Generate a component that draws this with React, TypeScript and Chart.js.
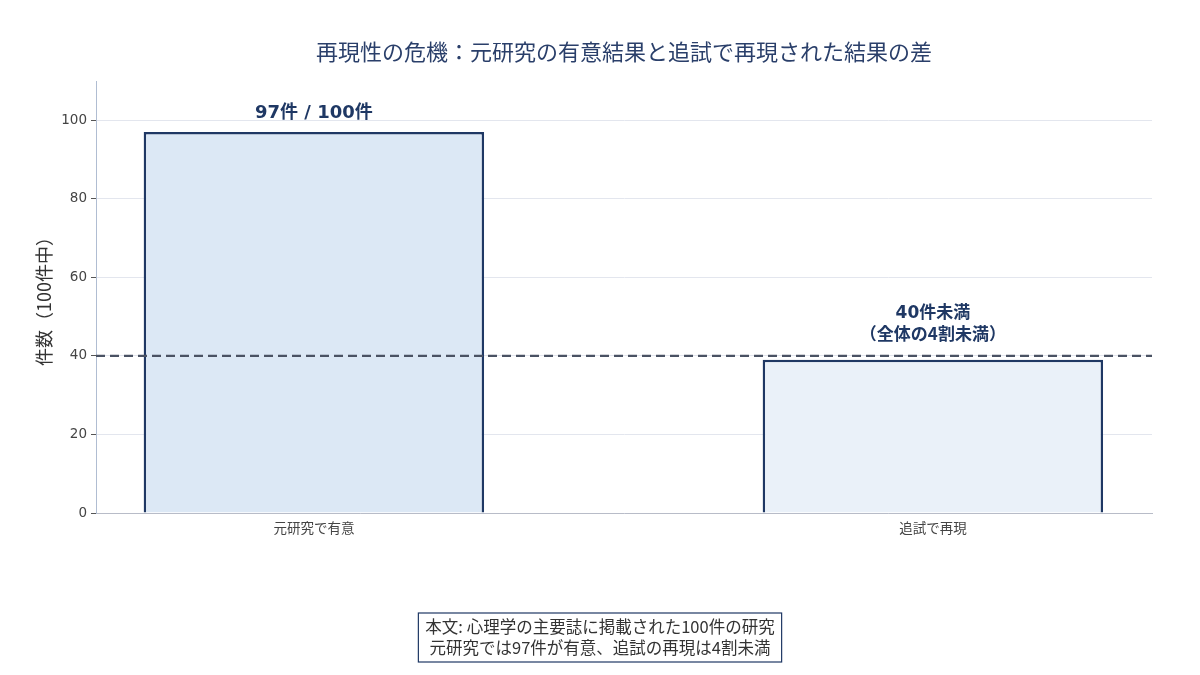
import React, { useEffect, useRef } from 'react';
import { Chart, registerables } from 'chart.js';
Chart.register(...registerables);

// データ
const categories = ['元研究で有意', '追試で再現'];
const counts = [97, 39];
const barFills = ['#dce8f5', '#eaf1f9'];
const threshold = 40;
const topLabel = '97件 / 100件';
const thresholdLabel = ['40件未満', '（全体の4割未満）'];
const titleText = '再現性の危機：元研究の有意結果と追試で再現された結果の差';
const yTitle = '件数（100件中）';
const noteLines = ['本文: 心理学の主要誌に掲載された100件の研究', '元研究では97件が有意、追試の再現は4割未満'];

const FONT = '"DejaVu Sans", "Noto Sans CJK JP", sans-serif';
const CJK = '"Noto Sans CJK JP", sans-serif';
const NAVY = '#1f3864';

const overlay = {
  id: 'overlay',
  afterDatasetsDraw(chart: any) {
    const { ctx, chartArea, scales } = chart;
    const x = scales.x;
    const y = scales.y;
    // 破線（閾値）
    const ty = y.getPixelForValue(threshold);
    ctx.save();
    ctx.strokeStyle = '#4a5263';
    ctx.lineWidth = 2.3;
    ctx.setLineDash([9, 5]);
    ctx.beginPath();
    ctx.moveTo(chartArea.left, ty);
    ctx.lineTo(chartArea.right, ty);
    ctx.stroke();
    ctx.restore();

    // ラベル
    ctx.save();
    ctx.fillStyle = NAVY;
    ctx.textAlign = 'center';
    ctx.textBaseline = 'alphabetic';
    ctx.font = `bold 18px ${FONT}`;
    ctx.fillText(topLabel, x.getPixelForValue(0), y.getPixelForValue(counts[0]) - 14);
    const cx = x.getPixelForValue(1);
    ctx.font = `bold 17px ${FONT}`;
    ctx.fillText(thresholdLabel[0], cx, ty - 38);
    ctx.font = `bold 17px ${CJK}`;
    ctx.fillText(thresholdLabel[1], cx, ty - 16);
    ctx.restore();
  },
  afterDraw(chart: any) {
    const { ctx, chartArea } = chart;
    ctx.save();
    // タイトル
    ctx.fillStyle = '#2a3f6a';
    ctx.font = `22px ${CJK}`;
    ctx.textAlign = 'center';
    ctx.textBaseline = 'middle';
    ctx.fillText(titleText, (chartArea.left + chartArea.right) / 2, 52);

    // 注記ボックス
    ctx.font = `16.5px ${CJK}`;
    const w = Math.max(...noteLines.map((l) => ctx.measureText(l).width)) + 14;
    const bx = 600 - w / 2;
    ctx.fillStyle = '#ffffff';
    ctx.fillRect(bx, 613, w, 49);
    ctx.strokeStyle = NAVY;
    ctx.lineWidth = 1.2;
    ctx.strokeRect(bx, 613, w, 49);
    ctx.fillStyle = '#333333';
    ctx.fillText(noteLines[0], 600, 627);
    ctx.fillText(noteLines[1], 600, 648);
    ctx.restore();
  },
};

const App: React.FC = () => {
  const canvasRef = useRef<HTMLCanvasElement>(null);
  const chartRef = useRef<Chart | null>(null);

  useEffect(() => {
    document.body.style.margin = '0';
    if (!canvasRef.current) return;
    chartRef.current?.destroy();
    chartRef.current = new Chart(canvasRef.current, {
      type: 'bar',
      data: {
        datasets: [
          {
            data: counts.map((v, i) => ({ x: i, y: v })),
            backgroundColor: barFills,
            borderColor: NAVY,
            borderWidth: 2.5,
            barPercentage: 0.55,
            categoryPercentage: 1,
          },
        ],
      },
      options: {
        animation: false,
        responsive: false,
        devicePixelRatio: 1,
        layout: { padding: { top: 81, right: 48, left: 0, bottom: 0 } },
        plugins: { legend: { display: false }, tooltip: { enabled: false } },
        scales: {
          x: {
            type: 'linear',
            offset: false,
            min: -0.352,
            max: 1.354,
            afterBuildTicks: (s: any) => {
              s.ticks = categories.map((_, i) => ({ value: i }));
            },
            afterFit: (s: any) => {
              s.height = 162;
            },
            ticks: {
              callback: (v: any) => categories[v] ?? '',
              color: '#444',
              font: { family: CJK, size: 13.5 },
              padding: 2,
              maxRotation: 0,
            },
            grid: { display: false, drawTicks: true, tickLength: 5, tickColor: '#555' },
            border: { display: true, color: '#b8bcc8', width: 1 },
          },
          y: {
            min: 0,
            max: 110,
            afterBuildTicks: (s: any) => {
              s.ticks = [0, 20, 40, 60, 80, 100].map((v) => ({ value: v }));
            },
            afterFit: (s: any) => {
              s.width = 96;
            },
            ticks: {
              color: '#444',
              font: { family: FONT, size: 13.5 },
              padding: 4,
            },
            grid: { color: '#e3e6ee', lineWidth: 1, tickLength: 5, tickColor: '#555' },
            border: { display: true, color: '#b0bdd2', width: 1 },
            title: {
              display: true,
              text: yTitle,
              color: '#333',
              font: { family: CJK, size: 18 },
              padding: { top: 33, bottom: 10 },
            },
          },
        },
      },
      plugins: [overlay],
    });
    return () => {
      chartRef.current?.destroy();
      chartRef.current = null;
    };
  }, []);

  return (
    <div style={{ width: 1200, height: 675, background: '#fff' }}>
      <canvas ref={canvasRef} width={1200} height={675}></canvas>
    </div>
  );
};

export default App;
